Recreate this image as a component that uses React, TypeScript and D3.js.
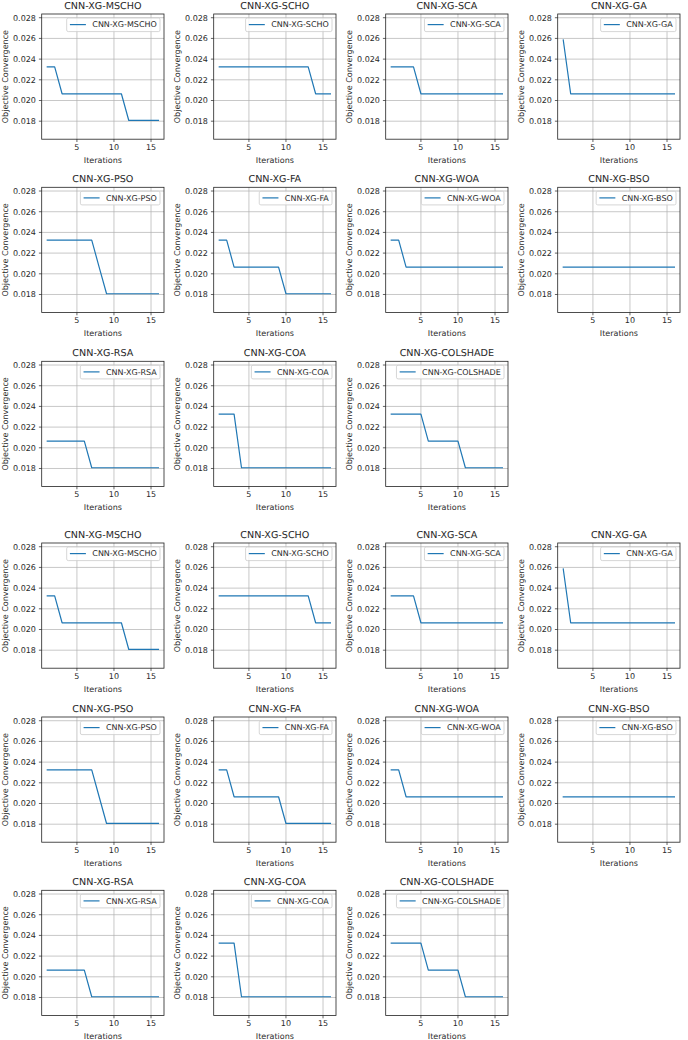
import React, { useEffect, useRef } from "react";
import * as d3 from "d3";

const iterations = [1, 2, 3, 4, 5, 6, 7, 8, 9, 10, 11, 12, 13, 14, 15, 16];

const titles = [
  "CNN-XG-MSCHO",
  "CNN-XG-SCHO",
  "CNN-XG-SCA",
  "CNN-XG-GA",
  "CNN-XG-PSO",
  "CNN-XG-FA",
  "CNN-XG-WOA",
  "CNN-XG-BSO",
  "CNN-XG-RSA",
  "CNN-XG-COA",
  "CNN-XG-COLSHADE",
];

const mscho = [0.02325, 0.02325, 0.02065, 0.02065, 0.02065, 0.02065, 0.02065, 0.02065, 0.02065, 0.02065, 0.02065, 0.01807, 0.01807, 0.01807, 0.01807, 0.01807];
const scho = [0.02325, 0.02325, 0.02325, 0.02325, 0.02325, 0.02325, 0.02325, 0.02325, 0.02325, 0.02325, 0.02325, 0.02325, 0.02325, 0.02065, 0.02065, 0.02065];
const sca = [0.02325, 0.02325, 0.02325, 0.02325, 0.02065, 0.02065, 0.02065, 0.02065, 0.02065, 0.02065, 0.02065, 0.02065, 0.02065, 0.02065, 0.02065, 0.02065];
const ga = [0.02585, 0.02065, 0.02065, 0.02065, 0.02065, 0.02065, 0.02065, 0.02065, 0.02065, 0.02065, 0.02065, 0.02065, 0.02065, 0.02065, 0.02065, 0.02065];
const pso = [0.02325, 0.02325, 0.02325, 0.02325, 0.02325, 0.02325, 0.02325, 0.02065, 0.01807, 0.01807, 0.01807, 0.01807, 0.01807, 0.01807, 0.01807, 0.01807];
const fa = [0.02325, 0.02325, 0.02065, 0.02065, 0.02065, 0.02065, 0.02065, 0.02065, 0.02065, 0.01807, 0.01807, 0.01807, 0.01807, 0.01807, 0.01807, 0.01807];
const woa = [0.02325, 0.02325, 0.02065, 0.02065, 0.02065, 0.02065, 0.02065, 0.02065, 0.02065, 0.02065, 0.02065, 0.02065, 0.02065, 0.02065, 0.02065, 0.02065];
const bso = [0.02065, 0.02065, 0.02065, 0.02065, 0.02065, 0.02065, 0.02065, 0.02065, 0.02065, 0.02065, 0.02065, 0.02065, 0.02065, 0.02065, 0.02065, 0.02065];
const rsa = [0.02065, 0.02065, 0.02065, 0.02065, 0.02065, 0.02065, 0.01807, 0.01807, 0.01807, 0.01807, 0.01807, 0.01807, 0.01807, 0.01807, 0.01807, 0.01807];
const coa = [0.02325, 0.02325, 0.02325, 0.01807, 0.01807, 0.01807, 0.01807, 0.01807, 0.01807, 0.01807, 0.01807, 0.01807, 0.01807, 0.01807, 0.01807, 0.01807];
const colshade = [0.02325, 0.02325, 0.02325, 0.02325, 0.02325, 0.02065, 0.02065, 0.02065, 0.02065, 0.02065, 0.01807, 0.01807, 0.01807, 0.01807, 0.01807, 0.01807];

const seriesList = [mscho, scho, sca, ga, pso, fa, woa, bso, rsa, coa, colshade];

const yTicks = [0.018, 0.02, 0.022, 0.024, 0.026, 0.028];
const xTicks = [5, 10, 15];

const W = 688;
const H = 1040;
const colLefts = [41.7, 213.7, 385.7, 557.7];
const rowTops = [14, 187.3, 361.3, 543, 717, 890.3];
const axW = 122.3;
const axH = 125.2;
const yDomain = [0.01626, 0.02836];
const xDomain = [0.25, 16.75];
const FONT = "DejaVu Sans";
const TEXT = "#2a2a2a";

export default function App() {
  const ref = useRef<SVGSVGElement>(null);

  useEffect(() => {
    const svg = d3.select(ref.current);
    svg.selectAll("*").remove();
    svg.append("rect").attr("width", W).attr("height", H).attr("fill", "#fff");

    const x = d3.scaleLinear().domain(xDomain).range([0, axW]);
    const y = d3.scaleLinear().domain(yDomain).range([axH, 0]);
    const line = d3
      .line<number>()
      .x((_, i) => x(iterations[i]))
      .y((d) => y(d));

    const txt = (sel: any, size: number) =>
      sel
        .attr("font-family", FONT)
        .attr("font-size", size)
        .attr("font-weight", 400)
        .attr("fill", TEXT)
        .style("text-rendering", "geometricPrecision");

    for (let block = 0; block < 2; block++) {
      seriesList.forEach((series, i) => {
        const row = block * 3 + Math.floor(i / 4);
        const col = i % 4;
        const g = svg
          .append("g")
          .attr("transform", `translate(${colLefts[col]},${rowTops[row]})`);

        // grid
        g.selectAll(".gx")
          .data(xTicks)
          .enter()
          .append("line")
          .attr("x1", (d) => x(d))
          .attr("x2", (d) => x(d))
          .attr("y1", 0)
          .attr("y2", axH)
          .attr("stroke", "#b0b0b0")
          .attr("stroke-width", 0.7);
        g.selectAll(".gy")
          .data(yTicks)
          .enter()
          .append("line")
          .attr("x1", 0)
          .attr("x2", axW)
          .attr("y1", (d) => y(d))
          .attr("y2", (d) => y(d))
          .attr("stroke", "#b0b0b0")
          .attr("stroke-width", 0.7);

        // series line
        g.append("path")
          .attr("d", line(series) as string)
          .attr("fill", "none")
          .attr("stroke", "#1f77b4")
          .attr("stroke-width", 1.2)
          .attr("stroke-linejoin", "round")
          .attr("stroke-linecap", "square");

        // spines
        g.append("rect")
          .attr("x", 0)
          .attr("y", 0)
          .attr("width", axW)
          .attr("height", axH)
          .attr("fill", "none")
          .attr("stroke", "#222")
          .attr("stroke-width", 0.8);

        // ticks
        g.selectAll(".tx")
          .data(xTicks)
          .enter()
          .append("line")
          .attr("x1", (d) => x(d))
          .attr("x2", (d) => x(d))
          .attr("y1", axH)
          .attr("y2", axH + 2.8)
          .attr("stroke", "#222")
          .attr("stroke-width", 0.7);
        txt(
          g.selectAll(".txl")
            .data(xTicks)
            .enter()
            .append("text")
            .attr("x", (d) => x(d))
            .attr("y", axH + 11)
            .attr("text-anchor", "middle")
            .text((d) => String(d)),
          8
        );
        g.selectAll(".ty")
          .data(yTicks)
          .enter()
          .append("line")
          .attr("x1", -2.8)
          .attr("x2", 0)
          .attr("y1", (d) => y(d))
          .attr("y2", (d) => y(d))
          .attr("stroke", "#222")
          .attr("stroke-width", 0.7);
        txt(
          g.selectAll(".tyl")
            .data(yTicks)
            .enter()
            .append("text")
            .attr("x", -5.8)
            .attr("y", (d) => y(d) + 2.9)
            .attr("text-anchor", "end")
            .text((d) => d3.format(".3f")(d)),
          8
        );

        // axis labels
        txt(
          g.append("text")
            .attr("x", axW / 2)
            .attr("y", axH + 24)
            .attr("text-anchor", "middle")
            .text("Iterations"),
          8
        );
        txt(
          g.append("text")
            .attr("transform", `translate(${-34.2},${axH / 2}) rotate(-90)`)
            .attr("text-anchor", "middle")
            .text("Objective Convergence"),
          8
        );

        // title
        txt(
          g.append("text")
            .attr("x", axW / 2)
            .attr("y", -5.4)
            .attr("text-anchor", "middle")
            .text(titles[i]),
          9.6
        );

        // legend
        const lg = g.append("g");
        const box = lg.append("rect");
        const lt = txt(
          lg.append("text")
            .attr("text-anchor", "end")
            .attr("x", axW - 4 - 3.2)
            .attr("y", 4 + 9.4)
            .text(titles[i]),
          8
        );
        const tw = (lt.node() as SVGTextElement).getComputedTextLength();
        const textStart = axW - 4 - 3.2 - tw;
        const hEnd = textStart - 6.4;
        const hStart = hEnd - 16;
        const boxLeft = hStart - 3.2;
        box
          .attr("x", boxLeft)
          .attr("y", 4)
          .attr("width", axW - 4 - boxLeft)
          .attr("height", 13.6)
          .attr("rx", 1.6)
          .attr("fill", "rgba(255,255,255,0.8)")
          .attr("stroke", "#cccccc")
          .attr("stroke-width", 0.8);
        lg.append("line")
          .attr("x1", hStart)
          .attr("x2", hEnd)
          .attr("y1", 4 + 6.6)
          .attr("y2", 4 + 6.6)
          .attr("stroke", "#1f77b4")
          .attr("stroke-width", 1.2);
      });
    }
  }, []);

  return (
    <svg
      ref={ref}
      width={W}
      height={H}
      style={{ position: "absolute", left: 0, top: 0, display: "block" }}
    />
  );
}
